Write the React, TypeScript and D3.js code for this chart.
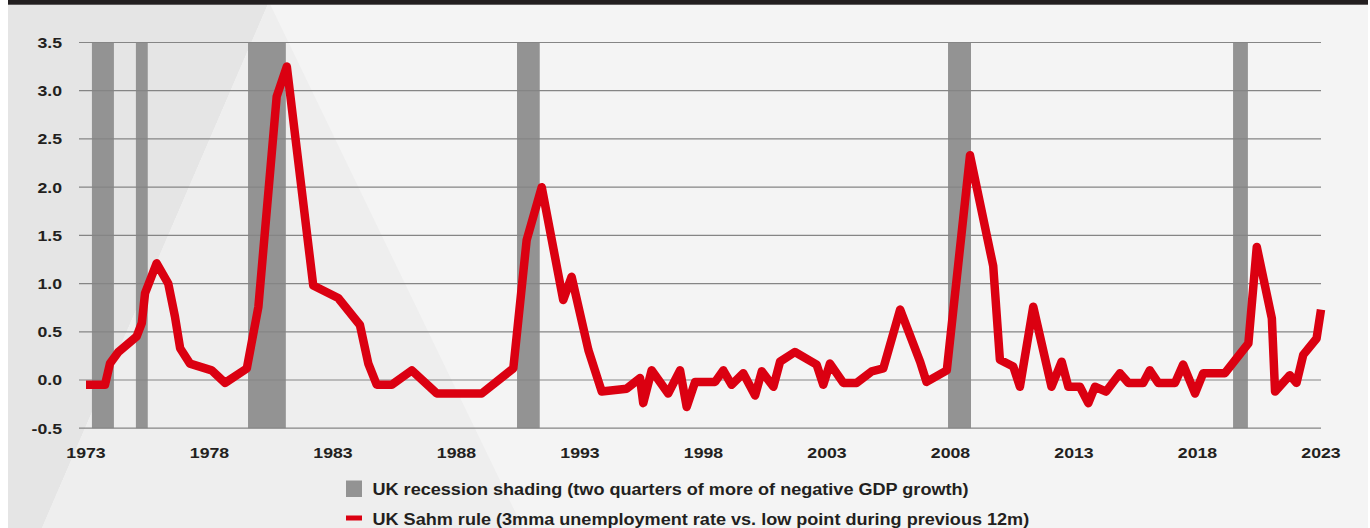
import * as d3 from "d3";
import * as React from "react";

// UK Sahm rule reading (decimal year, value)
const sahmYears = [
  1973.0, 1973.77, 1973.97, 1974.31, 1975.05, 1975.26, 1975.39, 1975.86, 1976.33, 1976.6,
  1976.81, 1977.21, 1978.09, 1978.63, 1979.51, 1979.98, 1980.72, 1981.13, 1982.2, 1983.21,
  1984.09, 1984.43, 1984.77, 1985.38, 1986.19, 1987.2, 1989.02, 1990.3, 1990.84, 1991.45,
  1992.32, 1992.66, 1993.34, 1993.88, 1994.89, 1995.43, 1995.56, 1995.9, 1996.57, 1997.05,
  1997.32, 1997.66, 1998.47, 1998.8, 1999.14, 1999.61, 2000.09, 2000.36, 2000.83, 2001.1,
  2001.7, 2002.58, 2002.85, 2003.12, 2003.66, 2004.2, 2004.81, 2005.28, 2005.96, 2006.77,
  2007.03, 2007.85, 2008.79, 2009.73, 2010.0, 2010.54, 2010.81, 2011.35, 2012.09, 2012.5,
  2012.77, 2013.24, 2013.58, 2013.85, 2014.3, 2014.86, 2015.2, 2015.8, 2016.07, 2016.41,
  2017.09, 2017.42, 2017.9, 2018.23, 2019.11, 2020.06, 2020.4, 2021.01, 2021.14, 2021.74,
  2022.01, 2022.28, 2022.82, 2023.0,
];
const sahmValues = [
  -0.05, -0.05, 0.17, 0.29, 0.45, 0.59, 0.9, 1.21, 1.0, 0.66,
  0.33, 0.17, 0.1, -0.03, 0.12, 0.76, 2.94, 3.25, 0.98, 0.85,
  0.57, 0.17, -0.05, -0.05, 0.1, -0.14, -0.14, 0.12, 1.45, 2.0,
  0.83, 1.07, 0.31, -0.12, -0.09, 0.02, -0.24, 0.1, -0.14, 0.1,
  -0.28, -0.02, -0.02, 0.1, -0.05, 0.07, -0.16, 0.09, -0.07, 0.19,
  0.29, 0.16, -0.05, 0.17, -0.03, -0.03, 0.09, 0.12, 0.73, 0.19,
  -0.02, 0.1, 2.33, 1.18, 0.21, 0.14, -0.07, 0.76, -0.07, 0.19,
  -0.07, -0.07, -0.24, -0.07, -0.12, 0.07, -0.03, -0.03, 0.1, -0.03,
  -0.03, 0.16, -0.14, 0.07, 0.07, 0.38, 1.38, 0.64, -0.12, 0.05,
  -0.03, 0.26, 0.43, 0.73,
];

// recession periods
const recessionStarts = [1973.24, 1975.02, 1979.56, 1990.45, 2007.9, 2019.44];
const recessionEnds = [1974.13, 1975.5, 1981.09, 1991.37, 2008.83, 2020.04];

const yTicks = [-0.5, 0, 0.5, 1, 1.5, 2, 2.5, 3, 3.5];
const yTickLabels = ["-0.5", "0.0", "0.5", "1.0", "1.5", "2.0", "2.5", "3.0", "3.5"];
const xTickYears = [1973, 1978, 1983, 1988, 1993, 1998, 2003, 2008, 2013, 2018, 2023];

const legendLabels = [
  "UK recession shading (two quarters of more of negative GDP growth)",
  "UK Sahm rule (3mma unemployment rate vs. low point during previous 12m)",
];

const RED = "#db0011";
const BAR = "#939393";
const INK = "#231f20";
const FONT = "'Liberation Sans', Arial, Helvetica, sans-serif";

export default function App() {
  const width = 1370;
  const height = 528;
  const gridLeft = 79;

  const x = d3.scaleLinear([1973, 2023], [86, 1321]);
  const y = d3.scaleLinear([-0.5, 3.5], [428.2, 42.5]);

  const points = sahmYears.map((yr, i) => [yr, sahmValues[i]] as [number, number]);
  const line = d3
    .line<[number, number]>()
    .x((d) => x(d[0]))
    .y((d) => y(d[1]));

  const labelStretch = 1.18;
  const legendStretch = 1.13;

  return (
    <svg
      width={width}
      height={height}
      viewBox={`0 0 ${width} ${height}`}
      style={{ position: "absolute", left: 0, top: 0, display: "block" }}
    >
      {/* backdrop */}
      <rect x={8} y={0} width={1360} height={height} fill="#f4f4f4" />
      <polygon points="8,4 268,4 42,528 8,528" fill="#e5e5e5" />
      <polygon points="268,4 270,4 523,528 42,528" fill="#eeeeee" />
      <rect x={8} y={0} width={1360} height={4.7} fill={INK} />

      {/* recession shading */}
      {recessionStarts.map((s, i) => (
        <rect
          key={"r" + i}
          x={x(s)}
          y={y(3.5)}
          width={x(recessionEnds[i]) - x(s)}
          height={y(-0.5) - y(3.5)}
          fill={BAR}
        />
      ))}

      {/* gridlines */}
      {yTicks.map((t) => (
        <line
          key={"g" + t}
          x1={gridLeft}
          x2={x(2023)}
          y1={y(t)}
          y2={y(t)}
          stroke="#858585"
          strokeWidth={1.2}
        />
      ))}

      {/* y labels */}
      {yTicks.map((t, i) => (
        <g key={"yl" + t} transform={`translate(62,${y(t) + 5.5}) scale(${labelStretch},1)`}>
          <text textAnchor="end" fontFamily={FONT} fontWeight="bold" fontSize={15} fill={INK}>
            {yTickLabels[i]}
          </text>
        </g>
      ))}

      {/* x labels */}
      {xTickYears.map((yr) => (
        <g key={"xl" + yr} transform={`translate(${x(yr)},457.5) scale(${labelStretch},1)`}>
          <text textAnchor="middle" fontFamily={FONT} fontWeight="bold" fontSize={15} fill={INK}>
            {yr}
          </text>
        </g>
      ))}

      {/* Sahm line */}
      <path
        d={line(points) ?? ""}
        fill="none"
        stroke={RED}
        strokeWidth={8.5}
        strokeLinejoin="round"
        strokeLinecap="butt"
      />

      {/* legend */}
      <rect x={346} y={480.5} width={16} height={16.5} fill={BAR} />
      <rect x={346} y={515.5} width={16} height={5} fill={RED} />
      {legendLabels.map((lbl, i) => (
        <g key={"lg" + i} transform={`translate(372.5,${494.5 + i * 30.5}) scale(${legendStretch},1)`}>
          <text fontFamily={FONT} fontWeight="bold" fontSize={16} fill={INK}>
            {lbl}
          </text>
        </g>
      ))}
    </svg>
  );
}
